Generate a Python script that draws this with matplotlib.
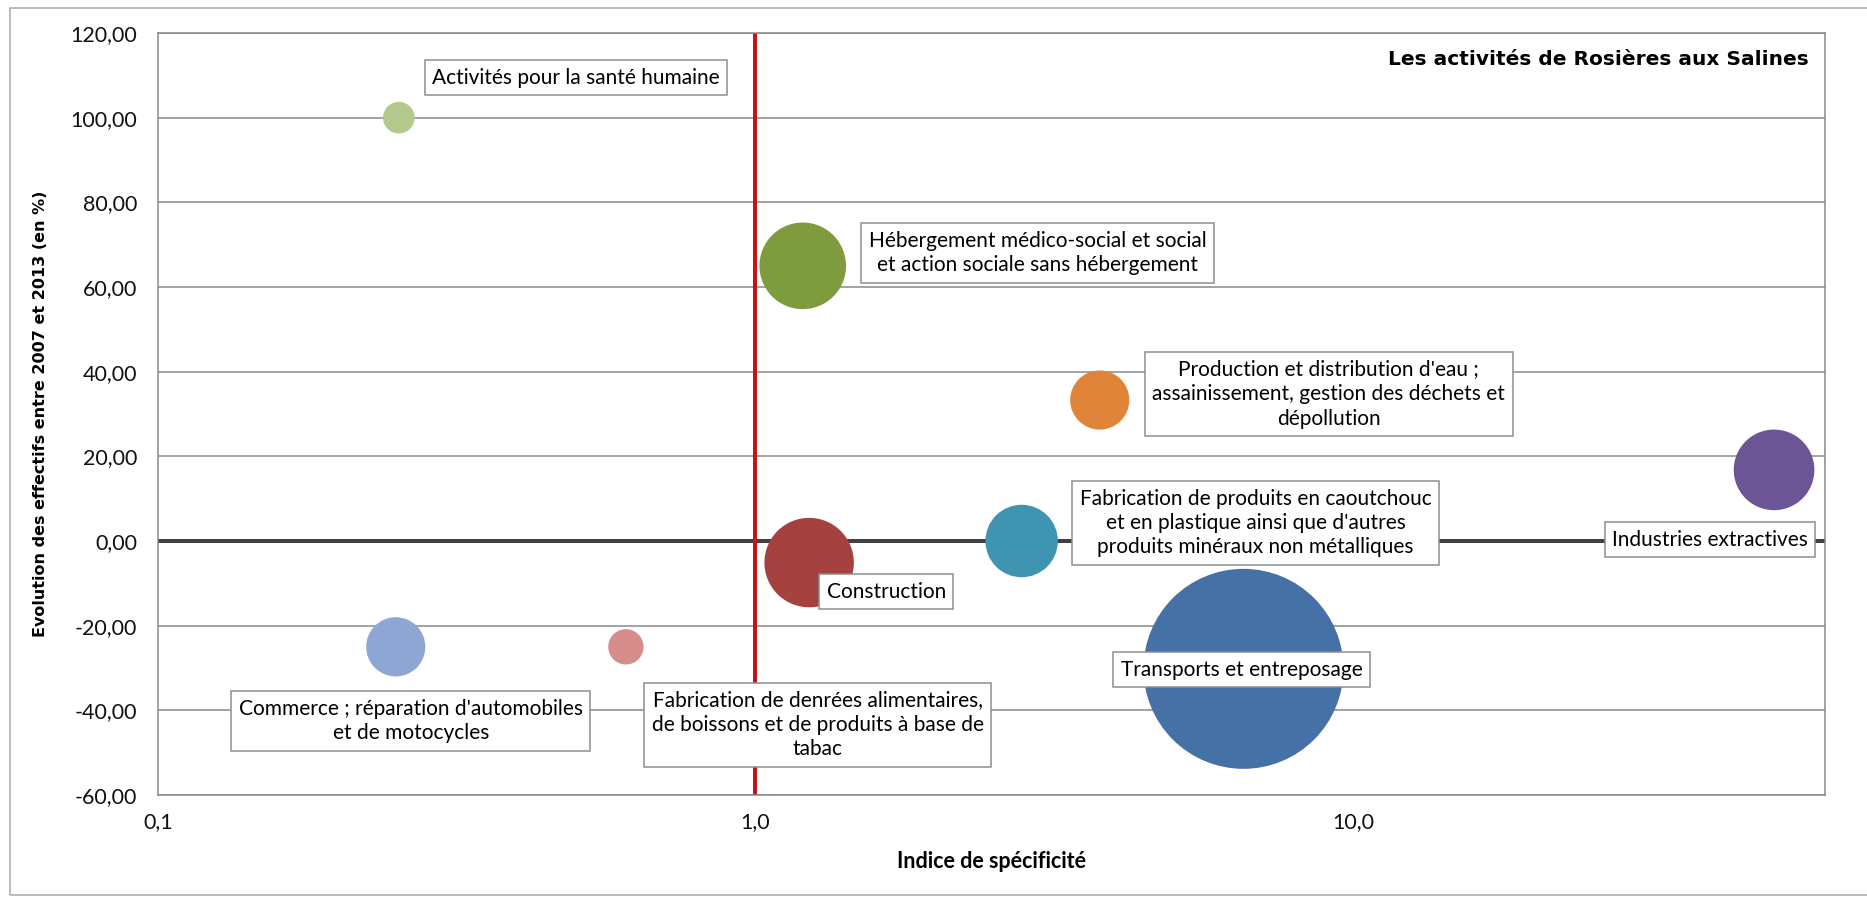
import matplotlib.pyplot as plt
from matplotlib.patches import Rectangle
from matplotlib.ticker import FixedLocator, FuncFormatter, NullLocator

# ----------------------------
# Data
# ----------------------------
secteurs = [
    "Activités pour la santé humaine",
    "Commerce ; réparation d'automobiles\net de motocycles",
    "Fabrication de denrées alimentaires,\nde boissons et de produits à base de\ntabac",
    "Hébergement médico-social et social\net action sociale sans hébergement",
    "Construction",
    "Production et distribution d'eau ;\nassainissement, gestion des déchets et\ndépollution",
    "Fabrication de produits en caoutchouc\net en plastique ainsi que d'autres\nproduits minéraux non métalliques",
    "Transports et entreposage",
    "Industries extractives",
]
indice_specificite = [0.253, 0.25, 0.607, 1.20, 1.23, 3.77, 2.79, 6.56, 50.7]
evolution_effectifs = [100.0, -25.0, -25.0, 65.0, -5.1, 33.3, 0.0, -30.2, 16.8]
effectifs = [4, 14, 5, 30, 32, 14, 21, 160, 26]

couleurs = ["#B3C98D", "#8EA6D3", "#D68C8A", "#7E9C3E", "#A5413F",
            "#DF8438", "#3F95B1", "#4571A6", "#6B5595"]

# label box offsets from the bubble centre (pixels, y pointing down)
label_offsets = [(177, -40), (15, 74), (192, 78), (235, -13), (77, 29),
                 (229, -6), (234, -18), (-2, 1), (-64, 70)]

y_ticks = [-60, -40, -20, 0, 20, 40, 60, 80, 100, 120]
x_ticks = [0.1, 1.0, 10.0]

# ----------------------------
# Figure layout
# ----------------------------
W, H, DPI = 1867, 897, 100
PX = 72 / DPI  # points per pixel

fig = plt.figure(figsize=(W / DPI, H / DPI), dpi=DPI)
fig.patch.set_facecolor("white")

left, right, top, bottom = 158, 1825, 33, 795
ax = fig.add_axes([left / W, 1 - bottom / H, (right - left) / W, (bottom - top) / H])

# outer chart frame (right side runs off the canvas)
fig.patches.append(Rectangle((10 / W, 2 / H), 1.2, (895 - 8) / H,
                             transform=fig.transFigure, fill=False,
                             edgecolor="#A6A6A6", linewidth=1.5 * PX))

ax.set_xscale("log")
ax.set_xlim(0.1, 61.7)
ax.set_ylim(-60, 120)

grid_color = "#878787"
for yv in y_ticks:
    ax.axhline(yv, color=grid_color, linewidth=1.5 * PX, zorder=1)
for sp in ax.spines.values():
    sp.set_color(grid_color)
    sp.set_linewidth(1.5 * PX)

ax.axhline(0, color="#404040", linewidth=4 * PX, zorder=2)
ax.axvline(1.0, color="#C81414", linewidth=4 * PX, zorder=2)

# ----------------------------
# Bubbles
# ----------------------------
max_diam_pt = 200 * PX
vmax = max(effectifs)
sizes = [max_diam_pt ** 2 * v / vmax for v in effectifs]
ax.scatter(indice_specificite, evolution_effectifs, s=sizes, c=couleurs,
           linewidths=0, zorder=3, clip_on=False)

label_font = dict(family="Lato", size=15, color="black")
for name, xv, yv, (dx, dy) in zip(secteurs, indice_specificite,
                                   evolution_effectifs, label_offsets):
    ax.annotate(name, (xv, yv), xytext=(dx * PX, -dy * PX),
                textcoords="offset points", ha="center", va="center",
                multialignment="center", linespacing=1.28, zorder=5,
                bbox=dict(boxstyle="square,pad=0.36", facecolor="white",
                          edgecolor="#8C8C8C", linewidth=1.5 * PX),
                **label_font)

# ----------------------------
# Axes, ticks and titles
# ----------------------------
ax.yaxis.set_major_locator(FixedLocator(y_ticks))
ax.yaxis.set_major_formatter(FuncFormatter(lambda v, _: f"{v:.2f}".replace(".", ",")))
ax.xaxis.set_major_locator(FixedLocator(x_ticks))
ax.xaxis.set_minor_locator(NullLocator())
ax.xaxis.set_major_formatter(FuncFormatter(lambda v, _: f"{v:.1f}".replace(".", ",")))
ax.tick_params(axis="both", length=0, labelsize=15.5, colors="#111111")
ax.tick_params(axis="y", pad=15)
ax.tick_params(axis="x", pad=12)
for lbl in ax.get_xticklabels() + ax.get_yticklabels():
    lbl.set_family("Lato")

ax.set_xlabel("Indice de spécificité", family="Lato", weight="bold",
              size=15.5, labelpad=14)
ax.set_ylabel("Evolution des effectifs entre 2007 et 2013 (en %)",
              family="DejaVu Sans", weight="bold", size=11.5, labelpad=16)

ax.text(0.99, 0.965, "Les activités de Rosières aux Salines",
        transform=ax.transAxes, ha="right", va="center",
        family="DejaVu Sans", weight="bold", size=14.5)

fig.savefig("out.png", dpi=DPI, facecolor="white")
